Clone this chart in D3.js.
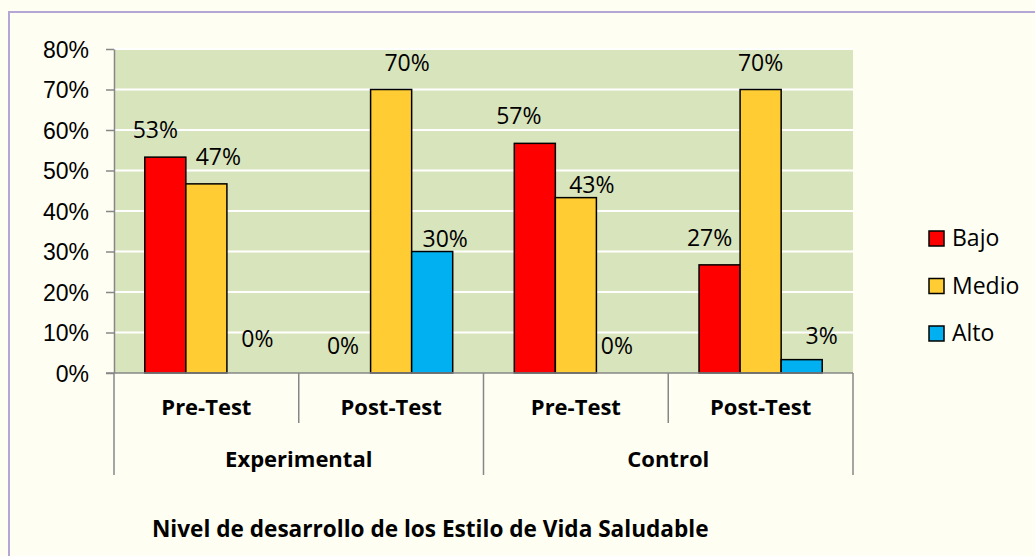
<!DOCTYPE html>
<html lang="es">
<meta charset="utf-8">
<style>
body {
  margin: 0;
  background: #fefef2;
  font-family: 'Open Sans', sans-serif;
}
#chart {
  width: 1035px;
  height: 556px;
}
.axis text {
  font-size: 23px;
  fill: #000;
}
.axis path, .axis line {
  stroke: #878787;
  stroke-width: 1.5px;
}
.cat {
  font-weight: bold;
  font-size: 22px;
}
</style>
<body>
<div id="chart"></div>
<script src="https://d3js.org/d3.v7.min.js"></script>
<script>

// data
var groups = ["Experimental", "Control"];
var phases = ["Pre-Test", "Post-Test"];
var series = ["Bajo", "Medio", "Alto"];
var bajo  = [53.3, 0, 56.7, 26.7];
var medio = [46.7, 70, 43.3, 70];
var alto  = [0, 30, 0, 3.3];
var yTicks = [0, 10, 20, 30, 40, 50, 60, 70, 80];
var title = "Nivel de desarrollo de los Estilo de Vida Saludable";

var colors = ["#ff0000", "#ffcc33", "#00b0f0"];

// hand nudges for the value labels (dx, dy), per bar, as placed in the original
var labelNudge = [
  [[-10, 0], [12, 0], [10, -7]],
  [[-7, 0], [16, 0], [13, 14]],
  [[-16, 0], [16, 14], [0, 0]],
  [[-10, 0], [0, 0], [20, 3]]
];

var width = 1035,
    height = 556;
var plot = {left: 114, right: 853, top: 49, bottom: 373};

var svg = d3.select("#chart").append("svg")
    .attr("width", width)
    .attr("height", height);

// outer frame (only left/top edges are inside the picture)
svg.append("rect")
    .attr("x", 9).attr("y", 12)
    .attr("width", 1100).attr("height", 700)
    .attr("fill", "#fefef2")
    .attr("stroke", "#b4a7d6")
    .attr("stroke-width", 2);

// build the category keys: group x phase
var cats = [];
groups.forEach(function(g) {
  phases.forEach(function(p) { cats.push({group: g, phase: p}); });
});

var x0 = d3.scaleBand()
    .domain(d3.range(cats.length))
    .range([plot.left, plot.right])
    .paddingInner(0).paddingOuter(0);

var x1 = d3.scaleBand()
    .domain(series)
    .range([0, x0.bandwidth()])
    .paddingInner(0).paddingOuter(0.75);

var y = d3.scaleLinear()
    .domain([0, 80])
    .range([plot.bottom, plot.top]);

// plot background
svg.append("rect")
    .attr("x", plot.left).attr("y", plot.top)
    .attr("width", plot.right - plot.left)
    .attr("height", plot.bottom - plot.top)
    .attr("fill", "#d8e4bc");

// gridlines
svg.append("g")
  .selectAll("line")
    .data(yTicks.slice(1))
  .enter().append("line")
    .attr("x1", plot.left).attr("x2", plot.right)
    .attr("y1", function(d) { return y(d); })
    .attr("y2", function(d) { return y(d); })
    .attr("stroke", "#fff")
    .attr("stroke-width", 2);

// bars
var values = [bajo, medio, alto];
var rows = cats.map(function(c, i) {
  return series.map(function(s, j) {
    return {cat: i, key: s, value: values[j][i], color: colors[j], nudge: labelNudge[i][j]};
  });
});

var cat = svg.append("g").selectAll("g")
    .data(rows)
  .enter().append("g")
    .attr("transform", function(d, i) { return "translate(" + x0(i) + ",0)"; });

cat.selectAll("rect")
    .data(function(d) { return d.filter(function(e) { return e.value > 0; }); })
  .enter().append("rect")
    .attr("x", function(d) { return x1(d.key); })
    .attr("y", function(d) { return y(d.value); })
    .attr("width", x1.bandwidth())
    .attr("height", function(d) { return y(0) - y(d.value); })
    .attr("fill", function(d) { return d.color; })
    .attr("stroke", "#000")
    .attr("stroke-width", 1.5);

cat.selectAll("text")
    .data(function(d) { return d; })
  .enter().append("text")
    .attr("x", function(d) { return x1(d.key) + x1.bandwidth() / 2 + d.nudge[0]; })
    .attr("y", function(d) { return y(d.value) - 19 + d.nudge[1]; })
    .attr("text-anchor", "middle")
    .style("font-size", "23px")
    .text(function(d) { return d3.format(".0f")(d.value) + "%"; });

// y axis
var yAxis = svg.append("g")
    .attr("class", "axis")
    .attr("transform", "translate(" + plot.left + ",0)")
    .call(d3.axisLeft(y)
      .tickValues(yTicks)
      .tickFormat(function(d) { return d + "%"; })
      .tickSize(8)
      .tickSizeOuter(0));
yAxis.selectAll("text").attr("x", -25).attr("dy", "0.35em");

// x axis line
svg.append("line")
    .attr("x1", plot.left - 8).attr("x2", plot.right)
    .attr("y1", plot.bottom).attr("y2", plot.bottom)
    .attr("stroke", "#878787").attr("stroke-width", 1.5);

// separators between categories (long ones between groups)
svg.append("g")
  .selectAll("line")
    .data(d3.range(cats.length + 1))
  .enter().append("line")
    .attr("x1", function(i) { return plot.left + i * x0.bandwidth(); })
    .attr("x2", function(i) { return plot.left + i * x0.bandwidth(); })
    .attr("y1", plot.bottom)
    .attr("y2", function(i) { return i % phases.length == 0 ? 475 : 423; })
    .attr("stroke", "#878787").attr("stroke-width", 1.5);

// phase labels
svg.append("g").selectAll("text")
    .data(cats)
  .enter().append("text")
    .attr("class", "cat")
    .attr("x", function(d, i) { return x0(i) + x0.bandwidth() / 2; })
    .attr("y", 415)
    .attr("text-anchor", "middle")
    .text(function(d) { return d.phase; });

// group labels
svg.append("g").selectAll("text")
    .data(groups)
  .enter().append("text")
    .attr("class", "cat")
    .attr("x", function(d, i) { return x0(i * phases.length) + x0.bandwidth() * phases.length / 2; })
    .attr("y", 467)
    .attr("text-anchor", "middle")
    .text(function(d) { return d; });

// title at bottom
svg.append("text")
    .attr("class", "cat")
    .attr("x", 152).attr("y", 537)
    .style("font-size", "22.6px")
    .text(title);

// legend
var legend = svg.append("g").selectAll("g")
    .data(series)
  .enter().append("g")
    .attr("transform", function(d, i) { return "translate(929," + (231 + i * 47.5) + ")"; });

legend.append("rect")
    .attr("width", 15).attr("height", 15)
    .attr("fill", function(d, i) { return colors[i]; })
    .attr("stroke", "#000").attr("stroke-width", 1.5);

legend.append("text")
    .attr("x", 23).attr("y", 15)
    .style("font-size", "23px")
    .text(function(d) { return d; });

</script>
</body>
</html>
